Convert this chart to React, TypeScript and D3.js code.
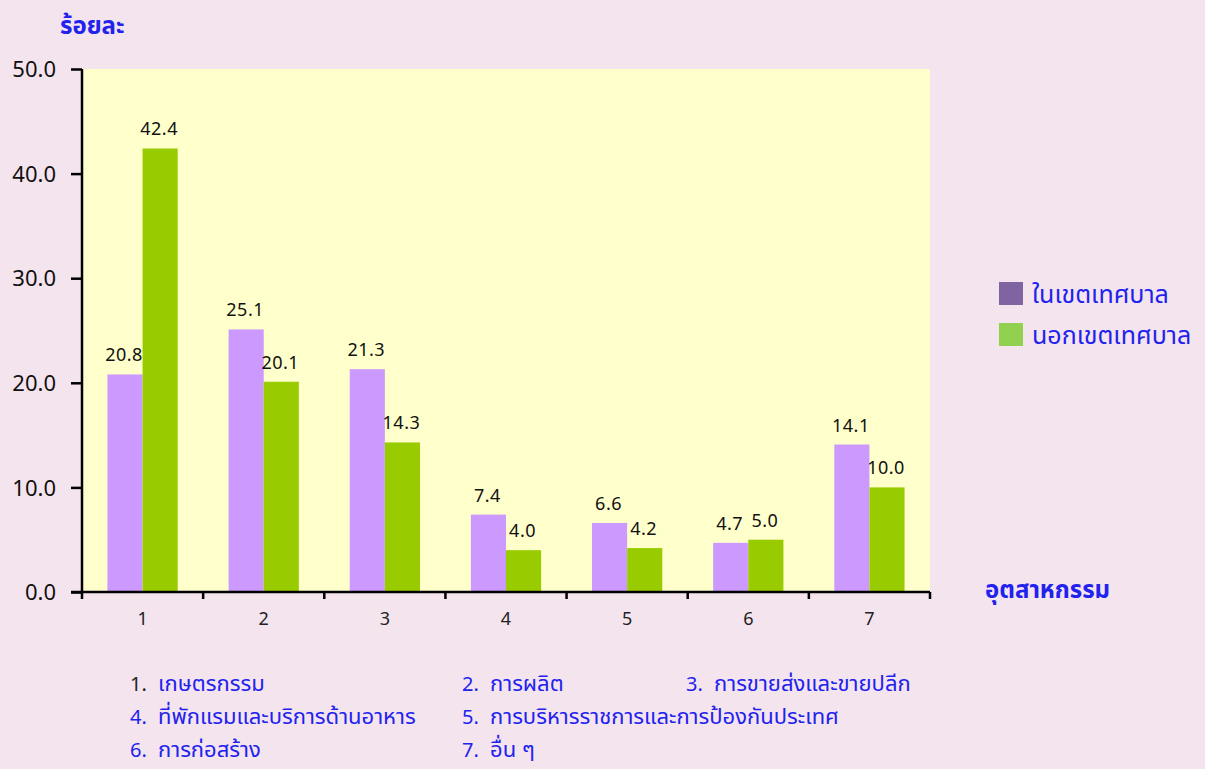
import React, { useEffect, useRef } from 'react';
import * as d3 from 'd3';

// category ids shown on the x axis
const categories = ['1', '2', '3', '4', '5', '6', '7'];
// series values (percent)
const inMunicipal = [20.8, 25.1, 21.3, 7.4, 6.6, 4.7, 14.1];
const outMunicipal = [42.4, 20.1, 14.3, 4.0, 4.2, 5.0, 10.0];
const seriesNames = ['ในเขตเทศบาล', 'นอกเขตเทศบาล'];
const yTicks = [0, 10, 20, 30, 40, 50];
// footnote: category names
const notes = [
  ['1.', 'เกษตรกรรม'],
  ['2.', 'การผลิต'],
  ['3.', 'การขายส่งและขายปลีก'],
  ['4.', 'ที่พักแรมและบริการด้านอาหาร'],
  ['5.', 'การบริหารราชการและการป้องกันประเทศ'],
  ['6.', 'การก่อสร้าง'],
  ['7.', 'อื่น ๆ'],
];

const W = 1205;
const H = 769;
const FONT = 'Tahoma, "Noto Sans Thai", "Noto Sans", "DejaVu Sans", sans-serif';
const BLUE = '#2222ee';

export default function App() {
  const svgRef = useRef<SVGSVGElement>(null);

  useEffect(() => {
    const svg = d3.select(svgRef.current);
    svg.selectAll('*').remove();

    const margin = { top: 69, left: 82, right: 275, bottom: 177 };
    const innerW = W - margin.left - margin.right;
    const innerH = H - margin.top - margin.bottom;

    svg.append('rect').attr('width', W).attr('height', H).attr('fill', '#f4e4ee');

    const g = svg.append('g').attr('transform', `translate(${margin.left},${margin.top})`);
    g.append('rect').attr('width', innerW).attr('height', innerH).attr('fill', '#ffffcc');

    const x0 = d3.scaleBand().domain(categories).range([0, innerW]);
    const x1 = d3.scaleBand().domain(['in', 'out']).range([0, x0.bandwidth() * 0.58]);
    const groupOffset = (x0.bandwidth() - x1.range()[1]) / 2;
    const y = d3.scaleLinear().domain([0, 50]).range([innerH, 0]);

    const rows = categories.map((c, i) => ({ c, vals: [
      { k: 'in', v: inMunicipal[i], color: '#cc99ff' },
      { k: 'out', v: outMunicipal[i], color: '#99cc00' },
    ] }));

    const grp = g.selectAll('.grp').data(rows).join('g')
      .attr('transform', d => `translate(${(x0(d.c) ?? 0) + groupOffset},0)`);

    grp.selectAll('rect').data(d => d.vals).join('rect')
      .attr('x', d => x1(d.k) ?? 0).attr('width', x1.bandwidth())
      .attr('y', d => y(d.v)).attr('height', d => innerH - y(d.v))
      .attr('fill', d => d.color);

    grp.selectAll('text').data(d => d.vals).join('text')
      .attr('x', d => (x1(d.k) ?? 0) + x1.bandwidth() / 2 - 1)
      .attr('y', d => y(d.v) - 13)
      .attr('text-anchor', 'middle')
      .attr('font-family', FONT).attr('font-size', 18).attr('fill', '#111')
      .attr('letter-spacing', 0.5)
      .text(d => d.v.toFixed(1));

    // y axis
    const ya = g.append('g').call(d3.axisLeft(y).tickValues(yTicks).tickSize(11).tickFormat(d => (+d).toFixed(1)));
    ya.select('.domain').attr('stroke', '#000').attr('stroke-width', 2.5).attr('d', `M0,0V${innerH}`);
    ya.selectAll('.tick line').attr('stroke', '#000').attr('stroke-width', 2.5);
    ya.selectAll('.tick text').attr('font-family', FONT).attr('font-size', 22).attr('fill', '#111')
      .attr('x', -26).attr('dy', '0.35em');

    // x axis
    const xa = g.append('g').attr('transform', `translate(0,${innerH})`)
      .call(d3.axisBottom(x0).tickSize(0).tickPadding(20));
    xa.select('.domain').remove();
    xa.selectAll('.tick text').attr('font-family', FONT).attr('font-size', 18).attr('fill', '#222');
    g.append('line').attr('x1', -11).attr('x2', innerW).attr('y1', innerH).attr('y2', innerH)
      .attr('stroke', '#000').attr('stroke-width', 2.5);
    const bounds = categories.map(c => x0(c) ?? 0).concat([innerW]);
    g.selectAll('.xt').data(bounds).join('line')
      .attr('x1', d => d).attr('x2', d => d).attr('y1', innerH).attr('y2', innerH + 7)
      .attr('stroke', '#000').attr('stroke-width', 2.5);

    // axis titles
    svg.append('text').attr('x', 60).attr('y', 34).attr('font-family', FONT).attr('font-weight', 'bold')
      .attr('font-size', 24).attr('fill', BLUE).text('ร้อยละ');
    svg.append('text').attr('x', 985).attr('y', 598).attr('font-family', FONT).attr('font-weight', 'bold')
      .attr('font-size', 24).attr('fill', BLUE).text('อุตสาหกรรม');

    // legend
    const legColors = ['#8064a2', '#92d050'];
    const leg = svg.append('g').attr('transform', 'translate(999,282)');
    seriesNames.forEach((n, i) => {
      leg.append('rect').attr('x', 0).attr('y', i * 41).attr('width', 24).attr('height', 23).attr('fill', legColors[i]);
      leg.append('text').attr('x', 33).attr('y', i * 41 + 21).attr('font-family', FONT)
        .attr('font-size', 25).attr('fill', BLUE).text(n);
    });

    // footnotes
    const colX = [130, 462, 686];
    const notePos = [[0, 0], [1, 0], [2, 0], [0, 1], [1, 1], [0, 2], [1, 2]];
    notes.forEach(([num, label], i) => {
      const [c, r] = notePos[i];
      const ty = 691 + r * 33;
      svg.append('text').attr('x', colX[c]).attr('y', ty).attr('font-family', FONT).attr('font-size', 20)
        .attr('fill', i === 0 ? '#222' : BLUE).text(num);
      svg.append('text').attr('x', colX[c] + 28).attr('y', ty).attr('font-family', FONT).attr('font-size', 22)
        .attr('fill', BLUE).text(label);
    });
  }, []);

  return (
    <svg ref={svgRef} width={W} height={H}
      style={{ display: 'block', position: 'fixed', left: 0, top: 0 }} />
  );
}
